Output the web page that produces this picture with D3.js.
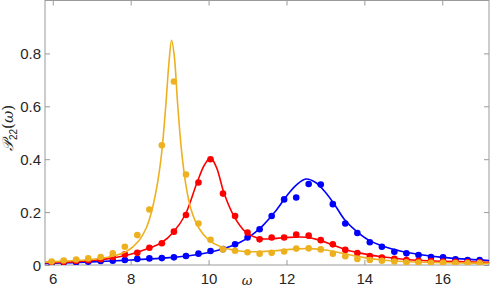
<!DOCTYPE html>
<html><head><meta charset="utf-8">
<script src="https://cdn.jsdelivr.net/npm/d3@7"></script>
<style>
html,body{margin:0;padding:0;background:#fff;}
svg{display:block;}
text{font-family:"Liberation Sans",Arial,Helvetica,sans-serif;}
</style></head>
<body>
<svg id="chart" width="491" height="289"></svg>
<script>
// ---- data ----
const omega = [5.97,6.28,6.60,6.91,7.23,7.54,7.85,8.17,8.48,8.80,9.11,9.42,9.74,10.05,10.37,10.68,11.00,11.31,11.62,11.94,12.25,12.57,12.88,13.19,13.51,13.82,14.14,14.45,14.77,15.08,15.39,15.71,16.02,16.34,16.65,16.96];
const orangePts = [0.013,0.017,0.021,0.025,0.030,0.044,0.069,0.113,0.210,0.453,0.694,0.342,0.157,0.095,0.059,0.054,0.048,0.043,0.046,0.051,0.062,0.063,0.059,0.043,0.033,0.023,0.019,0.016,0.013,0.010,0.009,0.008,0.008,0.007,0.007,0.007];
const redPts = [0.010,0.012,0.015,0.018,0.022,0.030,0.040,0.046,0.065,0.082,0.126,0.189,0.312,0.400,0.270,0.185,0.123,0.097,0.104,0.104,0.115,0.111,0.094,0.078,0.057,0.045,0.034,0.028,0.023,0.019,0.016,0.015,0.013,0.012,0.011,0.010];
const bluePts = [0.006,0.009,0.010,0.0125,0.015,0.016,0.019,0.023,0.025,0.026,0.029,0.034,0.043,0.053,0.060,0.078,0.104,0.135,0.185,0.248,0.255,0.306,0.304,0.230,0.157,0.121,0.086,0.069,0.050,0.044,0.038,0.030,0.029,0.022,0.019,0.019];

const orangeCurveW = [5.8,6.5,7.0,7.5,7.9,8.2,8.4,8.55,8.7,8.8,8.9,8.98,9.05,9.12,9.2,9.3,9.42,9.55,9.75,10.0,10.3,10.7,11.2,11.7,12.3,12.6,13.0,13.5,14.0,14.5,15.0,16.0,17.2];
const orangeCurveP = [0.011,0.016,0.021,0.032,0.052,0.09,0.14,0.21,0.32,0.43,0.60,0.76,0.85,0.79,0.62,0.44,0.30,0.21,0.14,0.095,0.07,0.055,0.05,0.054,0.061,0.062,0.057,0.042,0.028,0.018,0.013,0.009,0.006];
const redCurveW = [5.8,6.5,7.0,7.5,8.0,8.5,8.8,9.1,9.4,9.7,9.9,10.05,10.2,10.4,10.65,10.95,11.3,11.6,12.0,12.5,12.85,13.2,13.55,14.0,14.5,15.0,15.5,16.0,16.6,17.2];
const redCurveP = [0.009,0.012,0.017,0.026,0.041,0.065,0.085,0.125,0.19,0.31,0.38,0.405,0.37,0.27,0.185,0.125,0.1,0.099,0.104,0.105,0.094,0.075,0.057,0.042,0.03,0.022,0.017,0.014,0.012,0.010];
const blueCurveW = [5.8,6.5,7.0,7.5,8.0,8.5,9.0,9.5,10.0,10.4,10.8,11.1,11.4,11.7,12.0,12.25,12.5,12.75,13.0,13.25,13.5,13.8,14.1,14.5,15.0,15.5,16.0,16.5,17.2];
const blueCurveP = [0.006,0.009,0.012,0.015,0.019,0.023,0.028,0.035,0.047,0.062,0.085,0.112,0.15,0.2,0.26,0.302,0.325,0.312,0.275,0.225,0.17,0.127,0.095,0.07,0.05,0.038,0.029,0.023,0.017];

const xTicks = [6,8,10,12,14,16];
const yTicks = [0,0.2,0.4,0.6,0.8];
const yTickLabels = ["0","0.2","0.4","0.6","0.8"];

const series = [
  {color:"#0000FF", pts:bluePts, cw:blueCurveW, cp:blueCurveP},
  {color:"#FF0000", pts:redPts, cw:redCurveW, cp:redCurveP},
  {color:"#EDB120", pts:orangePts, cw:orangeCurveW, cp:orangeCurveP}
];

// ---- layout ----
const L=45, R=489, T=0.5, B=265;
const svg = d3.select("#chart");
const x = d3.scaleLinear().domain([5.8,17.2]).range([L,R]);
const y = d3.scaleLinear().domain([0,1]).range([B,T]);

const defs = svg.append("defs");
defs.append("clipPath").attr("id","clip").append("rect")
  .attr("x",L).attr("y",T).attr("width",R-L).attr("height",B-T);

const axisColor = "#9a9a9a", textColor = "#262626";
const fs = 15;

const gx = svg.append("g").attr("transform",`translate(0,${B})`)
  .call(d3.axisBottom(x).tickValues(xTicks).tickSize(-5).tickPadding(8).tickFormat(d3.format("d")));
const gxt = svg.append("g").attr("transform",`translate(0,${T})`)
  .call(d3.axisTop(x).tickValues(xTicks).tickSize(-5).tickFormat(""));
const gy = svg.append("g").attr("transform",`translate(${L},0)`)
  .call(d3.axisLeft(y).tickValues(yTicks).tickSize(-5).tickPadding(4).tickFormat((d,i)=>yTickLabels[i]));
const gyr = svg.append("g").attr("transform",`translate(${R},0)`)
  .call(d3.axisRight(y).tickValues(yTicks).tickSize(-5).tickFormat(""));
[gx,gxt,gy,gyr].forEach(g=>{
  g.select(".domain").remove();
  g.selectAll(".tick line").attr("stroke",axisColor);
  g.selectAll("text").attr("fill",textColor).style("font-size",fs+"px")
    .style("font-family",'"Liberation Sans",Arial,sans-serif');
});
gy.selectAll("text").attr("dy","0.35em");
gx.selectAll("text").attr("dy","0.71em");

// frame
svg.append("rect").attr("x",L).attr("y",T).attr("width",R-L).attr("height",B-T)
  .attr("fill","none").attr("stroke",axisColor).attr("stroke-width",1);

// series
const plot = svg.append("g").attr("clip-path","url(#clip)");
const line = d3.line().x(d=>x(d[0])).y(d=>y(d[1])).curve(d3.curveCatmullRom.alpha(0.5));
series.forEach(s=>{
  const cdata = s.cw.map((w,i)=>[w,s.cp[i]]);
  plot.append("path").datum(cdata).attr("d",line)
    .attr("fill","none").attr("stroke",s.color).attr("stroke-width",1.6);
  plot.selectAll(null).data(omega.map((w,i)=>[w,s.pts[i]])).enter().append("circle")
    .attr("cx",d=>x(d[0])).attr("cy",d=>y(d[1])).attr("r",3.3).attr("fill",s.color);
});

// axis labels
svg.append("text").attr("x",247).attr("y",285)
  .attr("text-anchor","middle").attr("fill",textColor)
  .style("font-size","13px").style("font-style","italic")
  .style("font-family",'"DejaVu Serif","Liberation Serif",serif').text("ω");

const yl = svg.append("text").attr("transform","translate(13,128) rotate(-90)")
  .attr("text-anchor","middle").attr("fill",textColor).style("font-size","15px");
yl.append("tspan").style("font-family",'"DejaVu Sans","Noto Sans",serif').style("font-style","italic").text("𝒫");
yl.append("tspan").attr("dy",4).style("font-size","10px").text("22");
yl.append("tspan").attr("dy",-4).style("font-family",'"DejaVu Serif",serif').text("(");
yl.append("tspan").style("font-family",'"DejaVu Serif",serif').style("font-style","italic").text("ω");
yl.append("tspan").style("font-family",'"DejaVu Serif",serif').text(")");
</script>
</body></html>
